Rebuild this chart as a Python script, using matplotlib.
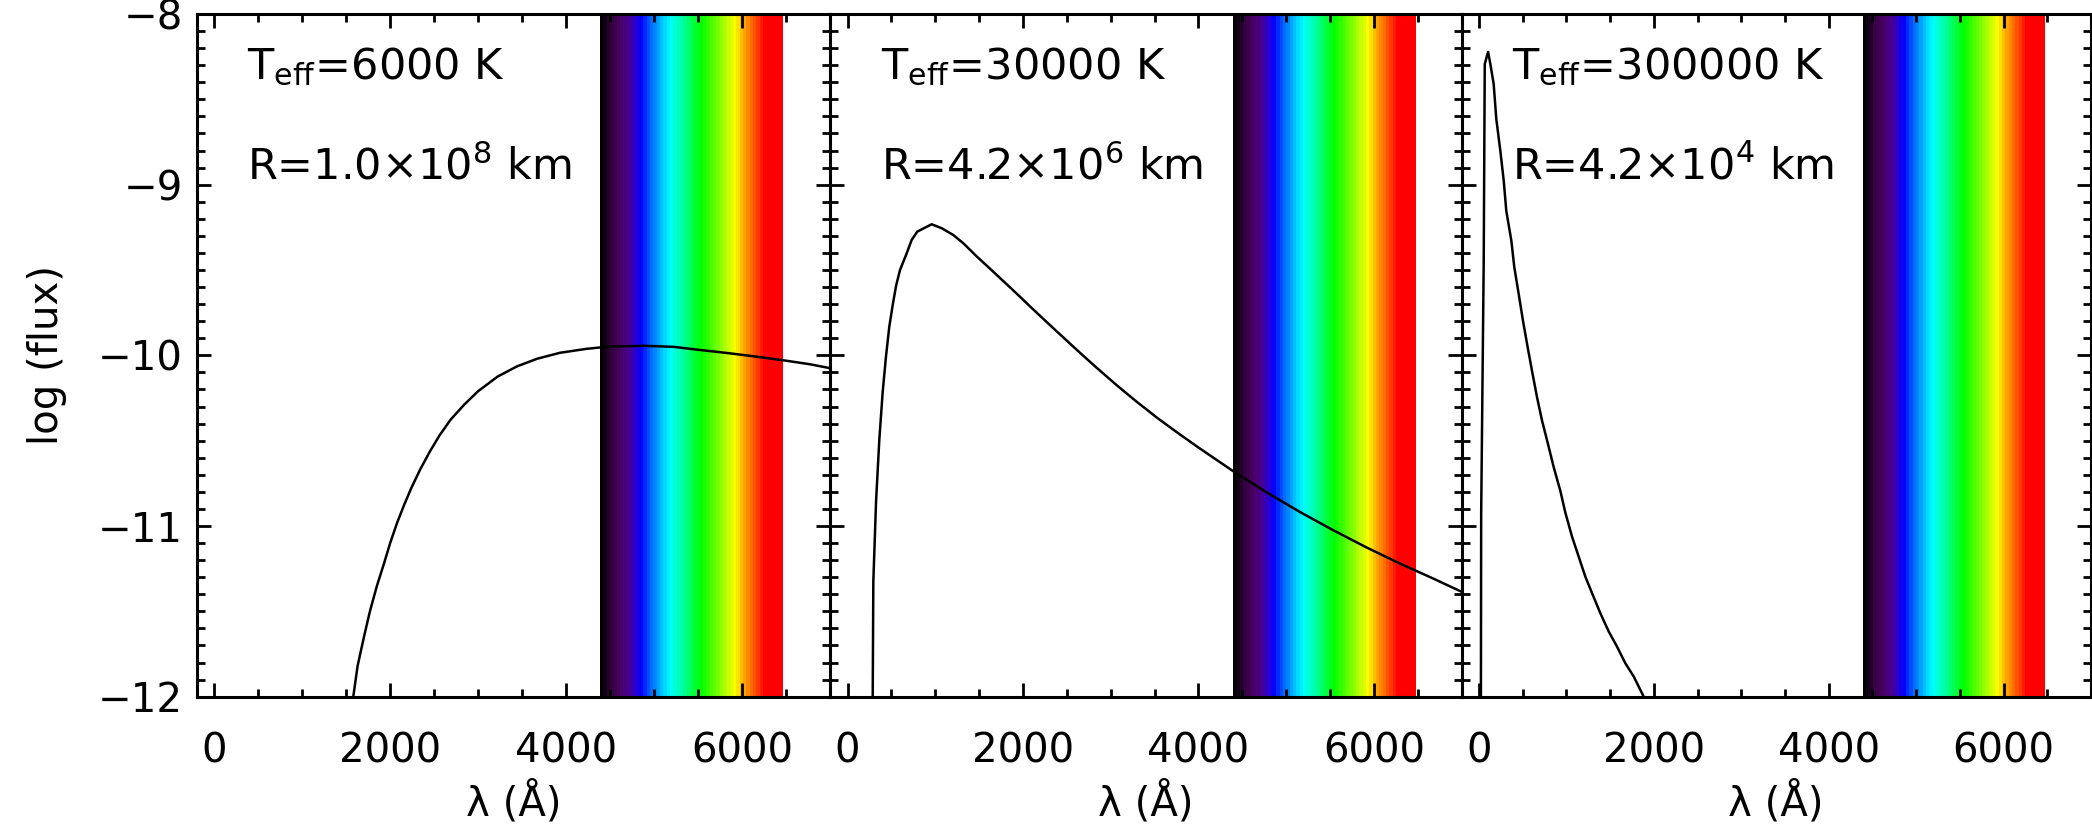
import numpy as np
import matplotlib
matplotlib.use('Agg')
import matplotlib.pyplot as plt
from matplotlib.colors import LinearSegmentedColormap
from matplotlib.ticker import MultipleLocator

plt.rcParams['font.family'] = ['DejaVu Sans']
plt.rcParams['mathtext.fontset'] = 'dejavusans'

# ---- data ----
# panel 1: Teff = 6000 K
wl_6000 = [1581, 1630, 1700, 1770, 1850, 1930, 2000, 2080, 2160, 2240, 2340,
           2450, 2560, 2690, 2840, 3000, 3220, 3440, 3670, 3930, 4230, 4460,
           4880, 5220, 5480, 5860, 6200, 6510, 6770, 7000]
flux_6000 = [-12.0, -11.82, -11.655, -11.50, -11.35, -11.22, -11.10, -10.98,
             -10.875, -10.778, -10.67, -10.565, -10.47, -10.375, -10.29,
             -10.21, -10.125, -10.065, -10.02, -9.985, -9.962, -9.950, -9.944,
             -9.950, -9.966, -9.988, -10.010, -10.032, -10.052, -10.075]

# panel 2: Teff = 30000 K
wl_30000 = [287, 294, 325, 362, 401, 438, 476, 515, 553, 598, 667, 731, 795, 883,
            959, 1073, 1206, 1320, 1472, 1624, 1776, 1928, 2080, 2271, 2460, 2650,
            2841, 3069, 3297, 3525, 3753, 3981, 4209, 4398, 4779, 5159, 5539,
            5919, 6299, 6679, 7000]
flux_30000 = [-12.0, -11.326, -10.857, -10.496, -10.213, -10.008, -9.832, -9.705,
              -9.593, -9.500, -9.412, -9.324, -9.275, -9.252, -9.232, -9.255,
              -9.295, -9.343, -9.420, -9.492, -9.565, -9.638, -9.713, -9.805,
              -9.895, -9.985, -10.073, -10.175, -10.272, -10.364, -10.450,
              -10.533, -10.613, -10.679, -10.803, -10.918, -11.025, -11.126,
              -11.220, -11.308, -11.385]

# panel 3: Teff = 300000 K
wl_300000 = [22, 25, 54, 66, 104, 130, 168, 198, 244, 283, 312, 370, 404, 454,
             503, 557, 606, 664, 721, 789, 855, 930, 987, 1064, 1140, 1216, 1301,
             1388, 1484, 1578, 1674, 1770, 1865, 1884]
flux_300000 = [-12.0, -10.93, -9.455, -8.293, -8.222, -8.293, -8.410, -8.615,
               -8.801, -8.977, -9.152, -9.328, -9.484, -9.640, -9.797, -9.953,
               -10.090, -10.246, -10.382, -10.519, -10.656, -10.793, -10.920,
               -11.062, -11.179, -11.296, -11.403, -11.511, -11.618, -11.706,
               -11.804, -11.882, -11.980, -12.0]

temps = ['6000', '30000', '300000']
radii = [r'1.0$\times$10$^{8}$', r'4.2$\times$10$^{6}$', r'4.2$\times$10$^{4}$']
curves = [(wl_6000, flux_6000), (wl_30000, flux_30000), (wl_300000, flux_300000)]

# visible band colour stops (wavelength in A, colour)
band_wl = [4390, 4480, 4590, 4700, 4800, 4840, 4950, 5070, 5180, 5330, 5540,
           5700, 5850, 5940, 6050, 6170, 6280, 6470]
band_col = ['#000000', '#2e0038', '#48005e', '#4a0090', '#2000e0', '#0000ff',
            '#0060ff', '#00b8ff', '#00ffff', '#00ffa0', '#00ff00', '#60ff00',
            '#c0ff00', '#ffff00', '#ffa000', '#ff5000', '#ff0000', '#ff0000']

# ---- figure ----
fig = plt.figure(figsize=(20.92, 8.34), dpi=100)
W, H = 2092.0, 834.0
lefts = [196.6, 830.0, 1461.5]
rights = [830.0, 1461.5, 2091.0]
top_px, bot_px = 14.0, 696.7

pos = [(b - band_wl[0]) / (band_wl[-1] - band_wl[0]) for b in band_wl]
band_cmap = LinearSegmentedColormap.from_list('band', list(zip(pos, band_col)))
stripes = np.linspace(0, 1, 55)[None, :]

fs = 29
for i in range(3):
    ax = fig.add_axes([lefts[i] / W, 1 - bot_px / H,
                       (rights[i] - lefts[i]) / W, (bot_px - top_px) / H])
    ax.imshow(stripes, cmap=band_cmap, extent=[band_wl[0], band_wl[-1], -12, -8],
              aspect='auto', interpolation='nearest', zorder=0)
    wl, fl = curves[i]
    ax.plot(wl, fl, color='black', lw=1.8, zorder=2)
    ax.set_xlim(-200, 7000)
    ax.set_ylim(-12, -8)

    ax.xaxis.set_major_locator(MultipleLocator(2000))
    ax.xaxis.set_minor_locator(MultipleLocator(500))
    ax.yaxis.set_major_locator(MultipleLocator(1))
    ax.yaxis.set_minor_locator(MultipleLocator(0.1))
    ax.tick_params(which='both', direction='in', top=True, right=True, width=2)
    ax.tick_params(which='major', length=10)
    ax.tick_params(which='minor', length=5.5)
    ax.tick_params(axis='x', labelsize=fs, pad=25)
    ax.tick_params(axis='y', labelsize=fs, pad=10)
    for s in ax.spines.values():
        s.set_linewidth(2.2)

    ax.set_xlabel('λ (Å)', fontsize=fs, va='center')
    ax.xaxis.set_label_coords(0.5, -0.1557)

    if i == 0:
        ax.set_ylabel('log (flux)', fontsize=fs, va='center')
        ax.yaxis.set_label_coords(-0.2362, 0.5)
        fig.canvas.draw()
        labs = ax.get_yticklabels()
        labs[0].set_va('bottom')
        labs[-1].set_va('top')
    else:
        ax.set_yticklabels([])

    ax.text(0.08, 0.905, r'T$_{\mathrm{eff}}$=' + temps[i] + ' K', transform=ax.transAxes,
            fontsize=31, va='baseline', ha='left')
    ax.text(0.08, 0.758, 'R=' + radii[i] + ' km', transform=ax.transAxes,
            fontsize=31, va='baseline', ha='left')

fig.savefig('out.png', dpi=100)
